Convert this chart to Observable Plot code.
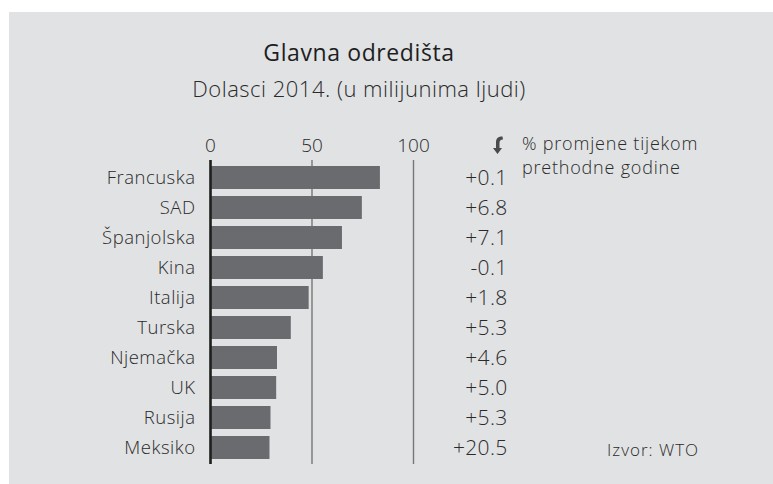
<!DOCTYPE html>
<html>
<head>
<meta charset="utf-8">
<script src="https://cdn.jsdelivr.net/npm/d3@7"></script>
<script src="https://cdn.jsdelivr.net/npm/@observablehq/plot@0.6"></script>
<style>
  html, body { margin: 0; padding: 0; background: #ffffff; }
  body { width: 773px; height: 484px; position: relative; overflow: hidden; font-family: "Open Sans", Lato, sans-serif; }
  #panel { position: absolute; left: 9px; top: 12px; width: 764px; height: 472px; background: #e1e2e4; }
  #title { position: absolute; left: 0; width: 700px; top: 25px; text-align: center; font-size: 23px; font-weight: 500; letter-spacing: 0.6px; color: #1e1e1e; line-height: 30px; }
  #subtitle { position: absolute; left: 0; width: 700px; top: 61px; text-align: center; font-size: 22px; font-weight: 300; letter-spacing: 0.5px; color: #2a2a2a; line-height: 30px; }
  #chart { position: absolute; left: 0; top: 98px; }
  #legend { position: absolute; left: 513px; top: 119px; font-size: 18px; font-weight: 300; letter-spacing: 0.8px; line-height: 24px; color: #2a2a2a; }
  #arrow { position: absolute; left: 482px; top: 123px; }
  #source { position: absolute; left: 598px; top: 426px; font-size: 17px; font-weight: 300; letter-spacing: 1px; color: #2a2a2a; line-height: 24px; }
  svg text { font-family: "Open Sans", Lato, sans-serif; }
  svg g[aria-label="y-axis tick label"] text { letter-spacing: 0.5px; }
  svg g[aria-label="text"] text { letter-spacing: 0.3px; }
</style>
</head>
<body>
<div id="panel">
  <div id="title">Glavna odredišta</div>
  <div id="subtitle">Dolasci 2014. (u milijunima ljudi)</div>
  <div id="chart"></div>
  <svg id="arrow" width="14" height="20" viewBox="0 0 14 20">
    <path d="M11.5 1.5 C6 1.5 5 4 5 8 L5 13 L2 13 L6.5 19 L11 13 L8.5 13 L8.5 8.5 C8.5 5.5 9.5 4.5 12 4.5 Z" fill="#4a4a4a"/>
  </svg>
  <div id="legend">% promjene tijekom<br>prethodne godine</div>
  <div id="source">Izvor: WTO</div>
</div>
<script>
const countries = ["Francuska", "SAD", "Španjolska", "Kina", "Italija", "Turska", "Njemačka", "UK", "Rusija", "Meksiko"];
const arrivals = [83.7, 74.8, 65.0, 55.6, 48.6, 39.8, 33.0, 32.6, 29.8, 29.3];
const changes = ["+0.1", "+6.8", "+7.1", "-0.1", "+1.8", "+5.3", "+4.6", "+5.0", "+5.3", "+20.5"];
const xTicks = [0, 50, 100];

const data = countries.map((c, i) => ({country: c, value: arrivals[i], change: changes[i]}));

const chart = Plot.plot({
  width: 764,
  height: 362,
  marginLeft: 201,
  marginRight: 360,
  marginTop: 50,
  marginBottom: 8,
  style: {background: "transparent", color: "#2a2a2a", fontSize: "17px"},
  x: {domain: [0, 100]},
  y: {domain: countries, paddingInner: 0.24, paddingOuter: 0.16},
  marks: [
    Plot.ruleX(xTicks.filter(d => d > 0), {stroke: "#777", strokeWidth: 1.4}),
    Plot.barX(data, {y: "country", x: "value", fill: "#6a6b6f"}),
    Plot.ruleX([0], {stroke: "#1e1e1e", strokeWidth: 2.6}),
    Plot.axisX(xTicks, {anchor: "top", tickSize: 0, tickPadding: 6, fontSize: 19, fontWeight: 300, fill: "#2a2a2a", label: null, dy: -3}),
    Plot.axisY({tickSize: 0, tickPadding: 15, fontSize: 18.5, fontWeight: 300, fill: "#2a2a2a", label: null}),
    Plot.text(data, {y: "country", text: "change", frameAnchor: "right", dx: 94, textAnchor: "end", fontSize: 21, fontWeight: 300, fill: "#2a2a2a"})
  ]
});
document.getElementById("chart").appendChild(chart);
</script>
</body>
</html>
